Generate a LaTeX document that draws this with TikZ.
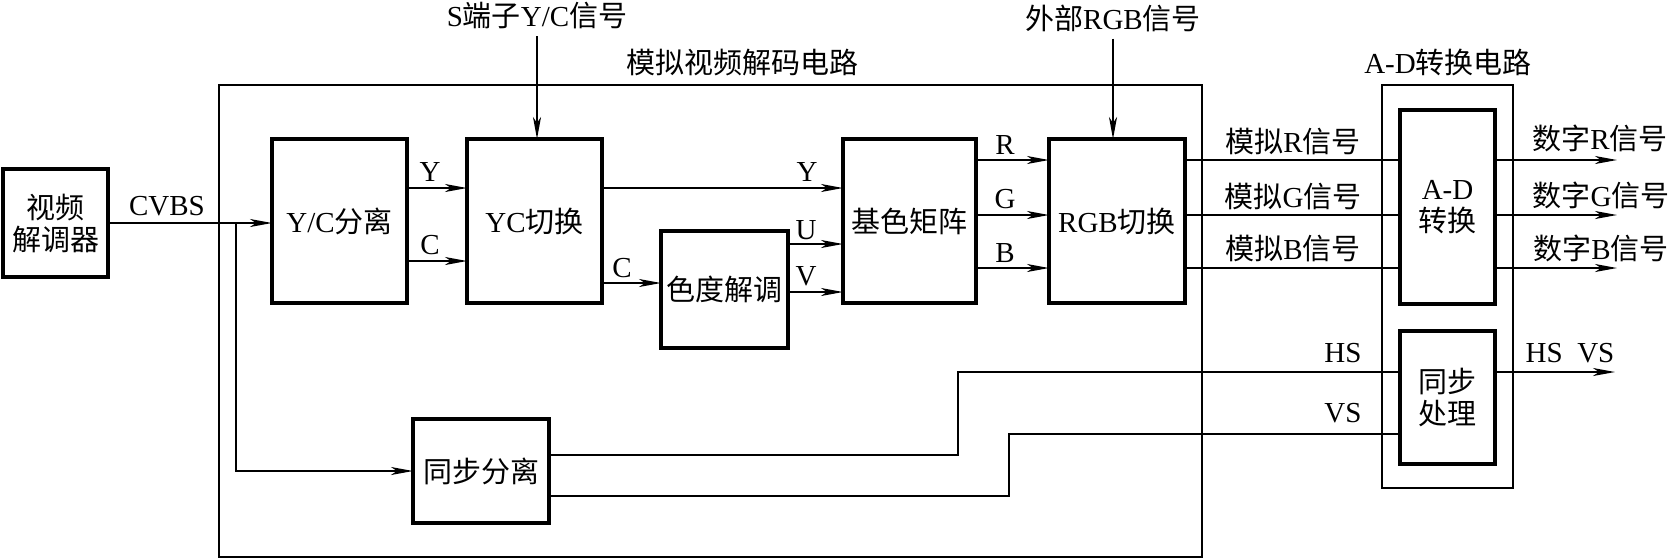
\documentclass[tikz,border=0pt]{standalone}
\usepackage{fontspec}
\setmainfont{Liberation Serif}
\newfontfamily\cjk{Noto Sans CJK SC}
\newcommand{\zh}[1]{{\cjk #1}}
\usetikzlibrary{arrows.meta, positioning, calc}

\tikzset{
  blk/.style={draw, line width=2pt, inner sep=0pt, outer sep=0pt, align=center},
  sig/.style={line width=1pt},
  sigarr/.style={line width=1pt, -{Stealth[length=11pt, width=4pt, inset=3pt]}},
  frame/.style={draw, line width=0.8pt},
  lbl/.style={inner sep=0pt},
}

\begin{document}
\begin{tikzpicture}[x=0.5pt, y=-0.5pt, font=\fontsize{14.5pt}{16pt}\selectfont]
  \useasboundingbox (0,0) rectangle (1673,559);

  % frames
  \draw[frame] (219,85) rectangle (1202,557);
  \draw[frame] (1382,85) rectangle (1513,488);
  \node (tdec) at (742,62) {\zh{模拟视频解码电路}};
  \node (tadc) at (1448,62) {A-D\zh{转换电路}};

  % blocks
  \node[blk, minimum width=52.5pt, minimum height=54pt] (demod) at (55.5,223) {\zh{视频}\\\zh{解调器}};
  \node[blk, minimum width=67.5pt, minimum height=82pt] (ycsep) at (339.5,221) {Y/C\zh{分离}};
  \node[blk, minimum width=67.5pt, minimum height=82pt] (ycsw) at (534.5,221) {YC\zh{切换}};
  \node[blk, minimum width=63.5pt, minimum height=58.5pt] (chroma) at (724.5,289.5) {\zh{色度解调}};
  \node[blk, minimum width=66.5pt, minimum height=82pt] (matrix) at (909.5,221) {\zh{基色矩阵}};
  \node[blk, minimum width=68pt, minimum height=82pt] (rgbsw) at (1117,221) {RGB\zh{切换}};
  \node[blk, minimum width=47.5pt, minimum height=97pt] (adc) at (1447.5,207) {A-D\\\zh{转换}};
  \node[blk, minimum width=47.5pt, minimum height=66.5pt] (syncproc) at (1447.5,397.5) {\zh{同步}\\\zh{处理}};
  \node[blk, minimum width=68pt, minimum height=52pt] (syncsep) at (481,471) {\zh{同步分离}};

  % inputs from above
  \node (sin) at (537,16) {S\zh{端子}Y/C\zh{信号}};
  \node (extin) at (1113,18) {\zh{外部}RGB\zh{信号}};
  \draw[sigarr] (sin.south) -- (sin.south |- ycsw.north);
  \draw[sigarr] (extin.south) -- (extin.south |- rgbsw.north);

  % signal rows
  \coordinate (rY) at (0,188);
  \coordinate (rC) at (0,261);
  \coordinate (rC2) at (0,283);
  \coordinate (rU) at (0,244);
  \coordinate (rV) at (0,292);
  \coordinate (rR) at (0,160);
  \coordinate (rG) at (0,215);
  \coordinate (rB) at (0,268);
  \coordinate (rHS) at (0,372);
  \coordinate (rVS) at (0,434);

  % CVBS
  \draw[sigarr] (demod.east) -- (ycsep.west |- demod.east);
  \coordinate (tap) at ($(demod.east)+(128,0)$);
  \draw[sigarr] (tap) |- (syncsep.west);
  \node (lcvbs) at (167,206) {CVBS};

  % Y/C
  \draw[sigarr] (ycsep.east |- rY) -- (ycsw.west |- rY);
  \draw[sigarr] (ycsep.east |- rC) -- (ycsw.west |- rC);
  \node[lbl] (ly1) at (430,172) {Y};
  \node[lbl] (lc1) at (430,245) {C};

  \draw[sigarr] (ycsw.east |- rY) -- (matrix.west |- rY);
  \draw[sigarr] (ycsw.east |- rC2) -- (chroma.west |- rC2);
  \draw[sigarr] (chroma.east |- rU) -- (matrix.west |- rU);
  \draw[sigarr] (chroma.east |- rV) -- (matrix.west |- rV);
  \node[lbl] (ly2) at (807,172) {Y};
  \node[lbl] (lc2) at (622,268) {C};
  \node[lbl] (lu) at (806,230) {U};
  \node[lbl] (lv) at (806,276) {V};

  % RGB
  \draw[sigarr] (matrix.east |- rR) -- (rgbsw.west |- rR);
  \draw[sigarr] (matrix.east |- rG) -- (rgbsw.west |- rG);
  \draw[sigarr] (matrix.east |- rB) -- (rgbsw.west |- rB);
  \node[lbl] (lr) at (1005,145) {R};
  \node[lbl] (lg) at (1005,199) {G};
  \node[lbl] (lb) at (1005,253) {B};

  \draw[sig] (rgbsw.east |- rR) -- (adc.west |- rR);
  \draw[sig] (rgbsw.east |- rG) -- (adc.west |- rG);
  \draw[sig] (rgbsw.east |- rB) -- (adc.west |- rB);
  \node[lbl] (lar) at (1293,142) {\zh{模拟}R\zh{信号}};
  \node[lbl] (lag) at (1293,197) {\zh{模拟}G\zh{信号}};
  \node[lbl] (lab) at (1293,249) {\zh{模拟}B\zh{信号}};

  \coordinate (outR) at (1617,160);
  \coordinate (outG) at (1617,215);
  \coordinate (outB) at (1617,268);
  \draw[sigarr] (adc.east |- rR) -- (outR);
  \draw[sigarr] (adc.east |- rG) -- (outG);
  \draw[sigarr] (adc.east |- rB) -- (outB);
  \node[lbl] (ldr) at (1600,138) {\zh{数字}R\zh{信号}};
  \node[lbl] (ldg) at (1601,195) {\zh{数字}G\zh{信号}};
  \node[lbl] (ldb) at (1601,248) {\zh{数字}B\zh{信号}};

  % sync
  \draw[sig] ([yshift=8pt]syncsep.east) -- ++(409,0) |- (syncproc.west |- rHS);
  \draw[sig] ([yshift=-12.5pt]syncsep.east) -- ++(460,0) |- (syncproc.west |- rVS);
  \node[lbl] (lhs) at (1343,353) {HS};
  \node[lbl] (lvs) at (1343,413) {VS};
  \coordinate (outHV) at (1615,372);
  \draw[sigarr] (syncproc.east |- rHS) -- (outHV);
  \node[lbl] (lhv) at (1570,353) {HS\enspace VS};
\end{tikzpicture}
\end{document}
